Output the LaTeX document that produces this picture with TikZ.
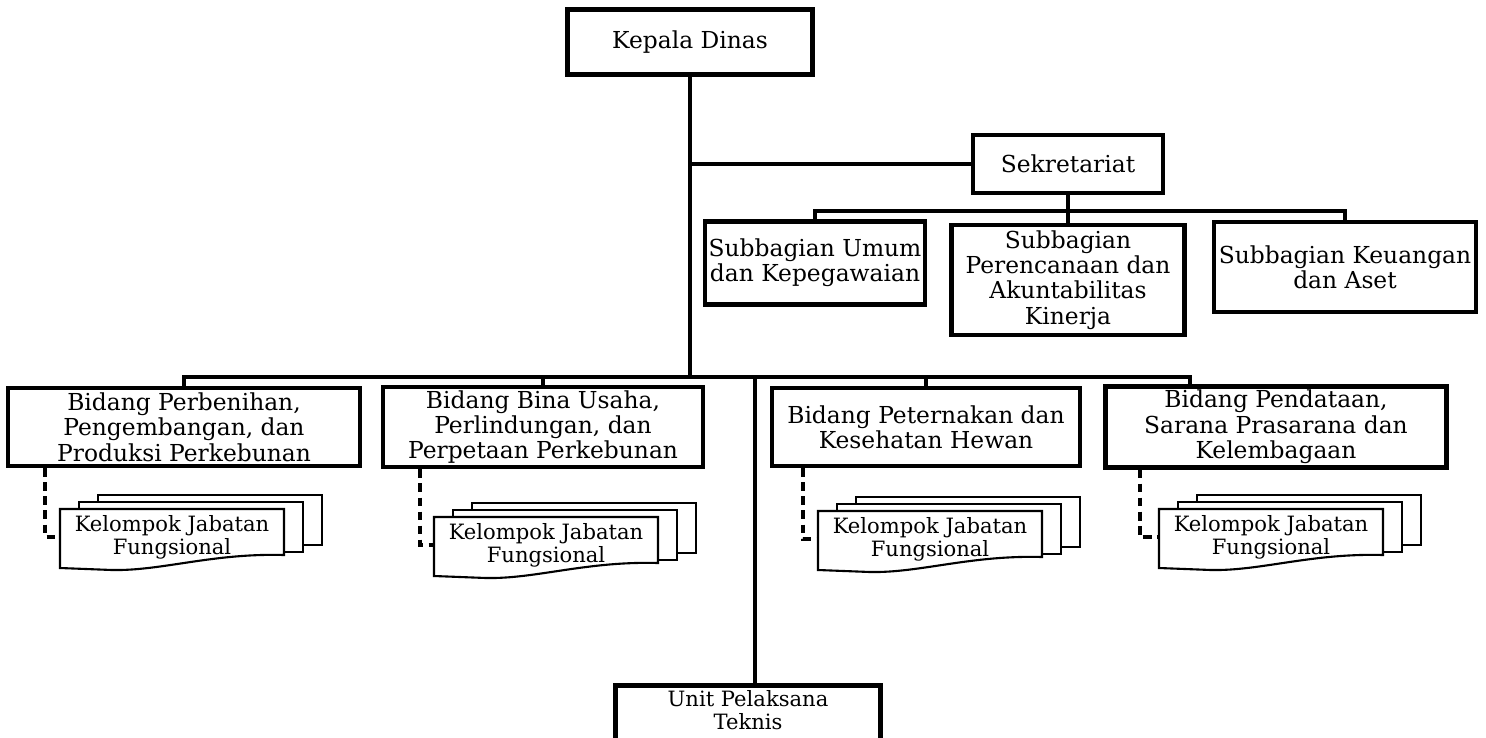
\documentclass[tikz,border=0pt]{standalone}
\usepackage{fontspec}
\setmainfont{DejaVu Serif}
\usepackage{tikz}

\begin{document}
\begin{tikzpicture}[
    x=0.02cm,y=-0.02cm,
    unitbox/.style={draw,line width=2.6pt,fill=white,align=center,inner sep=2pt,font=\fontsize{13.3}{14.4}\selectfont},
    smallbox/.style={unitbox,font=\fontsize{12}{12.8}\selectfont},
    link/.style={line width=2.6pt},
    dashlink/.style={line width=1.8pt,dashed,dash pattern=on 5pt off 3pt},
    docline/.style={line width=1.2pt,fill=white},
    doctext/.style={minimum width=4.48cm,minimum height=1.1cm,inner sep=0pt,align=center,font=\fontsize{12}{13}\selectfont}
  ]
    \useasboundingbox (0,0) rectangle (1486,737);

    % pimpinan dan sekretariat
    \node[unitbox,minimum width=4.9cm,minimum height=1.3cm] (kadis) at (690,42) {Kepala Dinas};
    \node[unitbox,minimum width=3.8cm,minimum height=1.16cm] (sekr) at (1068,164) {Sekretariat};
    \node[unitbox,minimum width=4.4cm,minimum height=1.66cm] (umum) at (815,263) {Subbagian Umum\\dan Kepegawaian};
    \node[unitbox,minimum width=4.66cm,minimum height=2.2cm] (renc) at (1068,280) {Subbagian\\Perencanaan dan\\Akuntabilitas\\Kinerja};
    \node[unitbox,minimum width=5.24cm,minimum height=1.8cm] (keu) at (1345,267) {Subbagian Keuangan\\dan Aset};

    % bidang
    \node[unitbox,minimum width=7.04cm,minimum height=1.56cm] (bid1) at (184,427) {Bidang Perbenihan,\\Pengembangan, dan\\Produksi Perkebunan};
    \node[unitbox,minimum width=6.4cm,minimum height=1.56cm] (bid2) at (543,427) {Bidang Bina Usaha,\\Perlindungan, dan\\Perpetaan Perkebunan};
    \node[unitbox,minimum width=6.16cm,minimum height=1.56cm] (bid3) at (926,427) {Bidang Peternakan dan\\Kesehatan Hewan};
    \node[unitbox,minimum width=6.82cm,minimum height=1.56cm] (bid4) at (1276,427) {Bidang Pendataan,\\Sarana Prasarana dan\\Kelembagaan};
    \node[smallbox,minimum width=5.3cm,minimum height=1.5cm,anchor=north] (upt) at (748,683) {Unit Pelaksana\\Teknis\\[2pt]};

    \coordinate (sbus) at (1068,211);
    \coordinate (mbus) at (690,377);

    % garis komando
    \draw[link] (kadis.south) -- (mbus);
    \draw[link] (kadis.south |- sekr.west) -- (sekr.west);
    \draw[link] (sekr.south) -- (renc.north);
    \draw[link] (umum.north) |- (sbus) -| (keu.north);
    \draw[link] (bid1.north) |- (mbus) -| (bid4.north -| 1190,0);
    \draw[link] (mbus -| bid2.north) -- (bid2.north);
    \draw[link] (mbus -| bid3.north) -- (bid3.north);
    \draw[link] (mbus -| 755,0) -- (upt.north -| 755,0);

    % kelompok jabatan fungsional
    \foreach \i/\x/\y/\d in {1/172/537/45, 2/546/545/420, 3/930/539/803, 4/1271/537/1140} {
      \draw[docline] ({\x-74},{\y-42}) rectangle ({\x+150},{\y+8});
      \draw[docline] ({\x-93},{\y-35}) rectangle ({\x+131},{\y+15});
      \draw[docline] ({\x-112},{\y-28}) -- ({\x+112},{\y-28}) -- ({\x+112},{\y+18})
        .. controls ({\x+40},{\y+16}) and ({\x-10},{\y+34}) .. ({\x-60},{\y+33})
        -- ({\x-112},{\y+31}) -- cycle;
      \node[doctext] (kjf\i) at (\x,\y) {Kelompok Jabatan\\Fungsional};
      \draw[dashlink] (bid\i.south -| \d,0) |- (kjf\i.west);
    }
  \end{tikzpicture}
\end{document}
